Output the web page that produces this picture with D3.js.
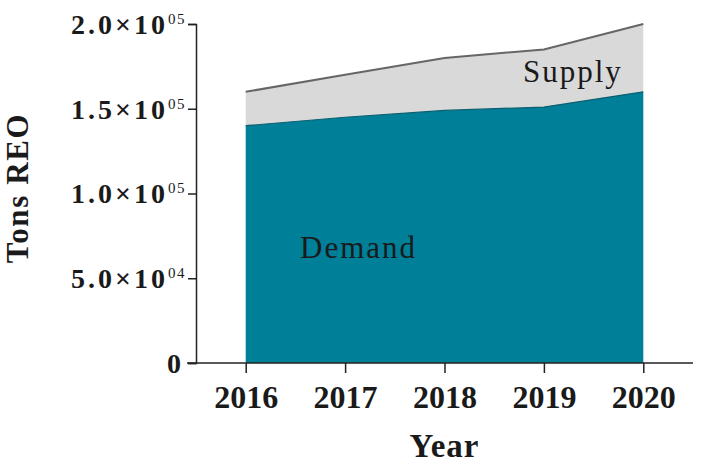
<!DOCTYPE html>
<html>
<head>
<meta charset="utf-8">
<script src="https://cdn.jsdelivr.net/npm/d3@7"></script>
<style>
  body { margin: 0; background: #fff; }
  svg text { font-family: "Liberation Serif", "Times New Roman", serif; fill: #1a1a1a; }
</style>
</head>
<body>
<svg id="chart" width="713" height="465"></svg>
<script>
var years = [2016, 2017, 2018, 2019, 2020];
var demand = [140000, 145000, 149000, 151000, 160000];
var supply = [160000, 170000, 180000, 185000, 200000];
var yTicks = [0, 50000, 100000, 150000, 200000];
var yTickMain = ["0", "5.0\u00d710", "1.0\u00d710", "1.5\u00d710", "2.0\u00d710"];
var yTickExp = ["", "04", "05", "05", "05"];

var svg = d3.select("#chart");

var x = d3.scaleLinear().domain([2015.5, 2020.5]).range([196, 693]);
var y = d3.scaleLinear().domain([0, 200000]).range([363, 24]);

var rows = years.map(function(d, i) { return {year: d, demand: demand[i], supply: supply[i]}; });

// supply band (grey) then demand (teal)
svg.append("path")
  .datum(rows)
  .attr("fill", "#d9d9d9")
  .attr("d", d3.area()
    .x(function(d) { return x(d.year); })
    .y0(function(d) { return y(d.demand); })
    .y1(function(d) { return y(d.supply); }));

svg.append("path")
  .datum(rows)
  .attr("fill", "none")
  .attr("stroke", "#666")
  .attr("stroke-width", 2)
  .attr("d", d3.line()
    .x(function(d) { return x(d.year); })
    .y(function(d) { return y(d.supply); }));

svg.append("path")
  .datum(rows)
  .attr("fill", "#007f98")
  .attr("d", d3.area()
    .x(function(d) { return x(d.year); })
    .y0(y(0))
    .y1(function(d) { return y(d.demand); }));

svg.append("path")
  .datum(rows)
  .attr("fill", "none")
  .attr("stroke", "#0b5f70")
  .attr("stroke-width", 1.2)
  .attr("d", d3.line()
    .x(function(d) { return x(d.year); })
    .y(function(d) { return y(d.demand); }));

// x axis
var gx = svg.append("g")
  .attr("transform", "translate(0," + y(0) + ")")
  .call(d3.axisBottom(x).tickValues(years).tickFormat(d3.format("d")).tickSize(10).tickPadding(12));
gx.select(".domain").attr("stroke", "#222").attr("stroke-width", 1.5).attr("d", "M187,0H693");
gx.selectAll(".tick line").attr("stroke", "#222").attr("stroke-width", 1.5);
gx.selectAll(".tick text")
  .attr("font-size", 32).attr("font-weight", "bold")
  .attr("fill", "#1a1a1a")
  .attr("dy", "0.71em");

// y axis
var gy = svg.append("g")
  .attr("transform", "translate(" + x(2015.5) + ",0)")
  .call(d3.axisLeft(y).tickValues(yTicks).tickSize(8).tickFormat(""));
gy.select(".domain").attr("stroke", "#222").attr("stroke-width", 1.5);
gy.selectAll(".tick line").attr("stroke", "#222").attr("stroke-width", 1.5);
gy.selectAll(".tick").each(function(d, i) {
  var t = d3.select(this).select("text")
    .attr("x", yTickExp[i] ? -10 : -12)
    .attr("dy", "0.33em")
    .attr("text-anchor", "end")
    .attr("fill", "#1a1a1a")
    .attr("font-size", 28)
    .attr("font-weight", "bold");
  t.text(null);
  t.append("tspan").style("letter-spacing", "3px").text(yTickMain[i]);
  if (yTickExp[i]) {
    t.append("tspan")
      .attr("dy", -10)
      .attr("font-size", 15)
      .attr("font-weight", "normal")
      .style("letter-spacing", "1.5px")
      .text(yTickExp[i]);
  }
});

// axis titles
svg.append("text")
  .attr("x", x(2018))
  .attr("y", 457)
  .attr("text-anchor", "middle")
  .attr("font-size", 33)
  .attr("font-weight", "bold")
  .style("letter-spacing", "1px")
  .text("Year");

svg.append("text")
  .attr("transform", "translate(28,188) rotate(-90)")
  .attr("text-anchor", "middle")
  .attr("font-size", 31)
  .attr("font-weight", "bold")
  .style("letter-spacing", "1.6px")
  .text("Tons REO");

// series labels
svg.append("text")
  .attr("x", 300)
  .attr("y", 258)
  .attr("font-size", 31)
  .style("letter-spacing", "2px")
  .attr("fill", "#10232a")
  .text("Demand");

svg.append("text")
  .attr("x", 523)
  .attr("y", 82)
  .attr("font-size", 31)
  .style("letter-spacing", "2px")
  .attr("fill", "#1a1a1a")
  .text("Supply");
</script>
</body>
</html>
